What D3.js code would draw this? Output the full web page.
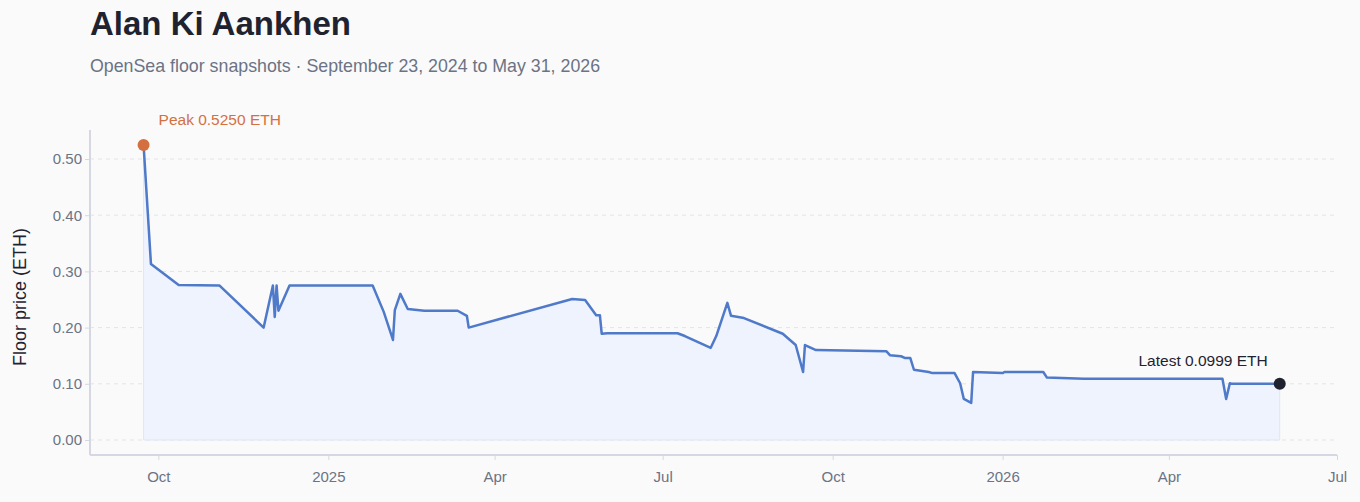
<!DOCTYPE html>
<html><head><meta charset="utf-8">
<script src="https://cdn.jsdelivr.net/npm/d3@7"></script>
<style>body{margin:0;background:#fafafa;font-family:"Liberation Sans",Arial,sans-serif}</style>
</head><body><svg id="c" width="1360" height="502"></svg>
<script>
const dates = ["2024-09-23","2024-09-27","2024-10-12","2024-11-03","2024-11-27","2024-12-02","2024-12-03","2024-12-04","2024-12-05","2024-12-11","2025-01-25","2025-01-31","2025-02-05","2025-02-06","2025-02-09","2025-02-13","2025-02-22","2025-03-12","2025-03-17","2025-03-18","2025-05-13","2025-05-20","2025-05-26","2025-05-28","2025-05-29","2025-06-01","2025-07-09","2025-07-13","2025-07-27","2025-07-30","2025-08-05","2025-08-07","2025-08-14","2025-09-04","2025-09-11","2025-09-15","2025-09-16","2025-09-22","2025-10-30","2025-11-01","2025-11-07","2025-11-09","2025-11-12","2025-11-14","2025-11-22","2025-11-24","2025-12-06","2025-12-09","2025-12-11","2025-12-15","2025-12-16","2026-01-01","2026-01-02","2026-01-23","2026-01-25","2026-02-14","2026-04-30","2026-05-02","2026-05-04","2026-05-05","2026-05-31"];
const prices = [0.525,0.313,0.276,0.275,0.200,0.275,0.219,0.275,0.230,0.275,0.275,0.228,0.178,0.231,0.260,0.233,0.230,0.230,0.221,0.200,0.251,0.249,0.222,0.222,0.189,0.190,0.190,0.185,0.164,0.185,0.244,0.221,0.217,0.189,0.169,0.121,0.169,0.160,0.158,0.151,0.149,0.146,0.146,0.125,0.121,0.119,0.119,0.101,0.073,0.066,0.121,0.119,0.121,0.121,0.111,0.109,0.109,0.073,0.101,0.0999,0.0999];
const yTicks = [0,0.1,0.2,0.3,0.4,0.5];
const xTicks = ["2024-10-01","2025-01-01","2025-04-01","2025-07-01","2025-10-01","2026-01-01","2026-04-01","2026-07-01"];

const p = d3.timeParse("%Y-%m-%d");
const data = dates.map((d,i)=>({d:p(d),v:prices[i]}));
const svg = d3.select("#c");
const x = d3.scaleTime().domain([p("2024-08-25"),p("2026-07-01")]).range([90,1337]);
const y = d3.scaleLinear().domain([0,0.5]).range([440,159]);

svg.append("text").attr("x",90).attr("y",35).attr("font-size",33).attr("font-weight","bold").attr("fill","#1f2330").text("Alan Ki Aankhen");
svg.append("text").attr("x",90).attr("y",72).attr("font-size",17.8).attr("fill","#6b7385").text("OpenSea floor snapshots · September 23, 2024 to May 31, 2026");

svg.append("g").selectAll("line").data(yTicks).join("line")
  .attr("x1",90).attr("x2",1337).attr("y1",d=>y(d)).attr("y2",d=>y(d))
  .attr("stroke","#e2e4ea").attr("stroke-dasharray","4,4");

svg.append("path").datum(data).attr("fill","#eef3fd").attr("stroke","#dde6f8")
  .attr("d",d3.area().x(d=>x(d.d)).y0(y(0)).y1(d=>y(d.v)));
svg.append("path").datum(data).attr("fill","none").attr("stroke","#4f79c9").attr("stroke-width",2.5).attr("stroke-linejoin","round")
  .attr("d",d3.line().x(d=>x(d.d)).y(d=>y(d.v)));

const ya = svg.append("g").attr("transform","translate(90,0)")
  .call(d3.axisLeft(y).tickValues(yTicks).tickFormat(d3.format(".2f")).tickSize(5));
ya.select(".domain").attr("d","M0,130V455").attr("stroke","#d5d8e3").attr("stroke-width",2);
const xa = svg.append("g").attr("transform","translate(0,455)")
  .call(d3.axisBottom(x).tickValues(xTicks.map(p)).tickFormat(d=>d.getMonth()===0?d3.timeFormat("%Y")(d):d3.timeFormat("%b")(d)).tickSize(5));
xa.select(".domain").attr("d","M90,0H1337").attr("stroke","#d5d8e3").attr("stroke-width",2);
[ya,xa].forEach(a=>{a.selectAll(".tick line").attr("stroke","#d5d8e3");a.selectAll("text").attr("fill","#6b7385").attr("font-size",15).attr("font-family","Liberation Sans, Arial");});
xa.selectAll("text").attr("dy","1.25em");

svg.append("text").attr("transform","translate(26,297) rotate(-90)").attr("text-anchor","middle").attr("font-size",18).attr("fill","#1f2330").text("Floor price (ETH)");

const f = data[0], l = data[data.length-1];
svg.append("circle").attr("cx",x(f.d)).attr("cy",y(f.v)).attr("r",6).attr("fill","#d4703f");
svg.append("text").attr("x",x(f.d)+15).attr("y",y(f.v)-20).attr("font-size",15.5).attr("fill","#d4703f").text("Peak 0.5250 ETH");
svg.append("circle").attr("cx",x(l.d)).attr("cy",y(l.v)).attr("r",6).attr("fill","#1f2330");
svg.append("text").attr("x",x(l.d)-12).attr("y",y(l.v)-18).attr("text-anchor","end").attr("font-size",15.5).attr("fill","#1f2330").text("Latest 0.0999 ETH");
</script></body></html>
